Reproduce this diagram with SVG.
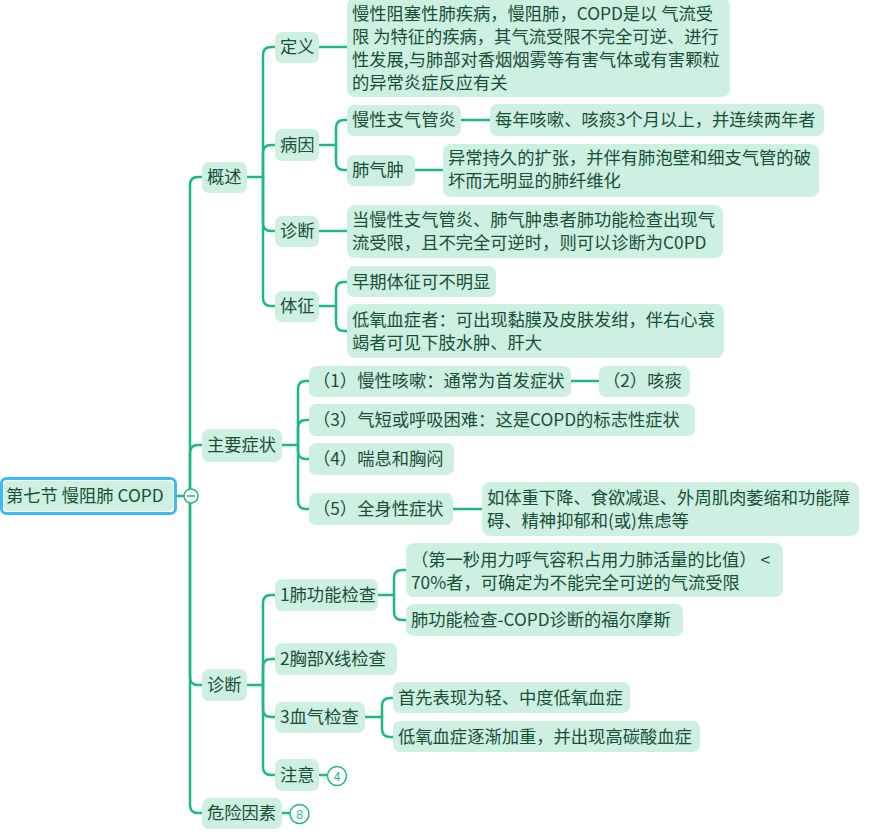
<svg xmlns="http://www.w3.org/2000/svg" width="895" height="833" viewBox="0 0 895 833">
<style>
.b{fill:#cdf0e2}
.t{font-family:"Noto Sans CJK SC","Noto Sans",sans-serif;font-size:17.3px;fill:#184f37}
.c{fill:none;stroke:#1cbb7c;stroke-width:2.5;stroke-linecap:round}
.n{font-family:"Liberation Sans",sans-serif;font-size:12px;fill:#1cbb7c;text-anchor:middle}
</style>
<rect width="895" height="833" fill="#ffffff"/>
<g id="connectors" class="c">
<path d="M177 496H190"/>
<path d="M190 496V185Q190 177 198 177H202"/>
<path d="M190 496V453Q190 445 198 445H202"/>
<path d="M190 496V677Q190 685 198 685H202"/>
<path d="M190 496V805Q190 813 198 813H202"/>
<path d="M247 177H263"/>
<path d="M263 177V55Q263 47 271 47H275"/>
<path d="M263 177V153Q263 145 271 145H275"/>
<path d="M263 177V223Q263 231 271 231H275"/>
<path d="M263 177V298Q263 306 271 306H275"/>
<path d="M319 47H347"/>
<path d="M319 145H336"/>
<path d="M336 145V128Q336 120 344 120H347"/>
<path d="M336 145V162Q336 170 344 170H347"/>
<path d="M461 120H490"/>
<path d="M415 170H443"/>
<path d="M319 231H347"/>
<path d="M319 306H336"/>
<path d="M336 306V290Q336 282 344 282H347"/>
<path d="M336 306V323Q336 331 344 331H347"/>
<path d="M282 445H298"/>
<path d="M298 445V389Q298 381 306 381H309"/>
<path d="M298 445V428Q298 420 306 420H309"/>
<path d="M298 445V451Q298 459 306 459H309"/>
<path d="M298 445V501Q298 509 306 509H309"/>
<path d="M571 381H599"/>
<path d="M453 509H482"/>
<path d="M247 685H263"/>
<path d="M263 685V603Q263 595 271 595H275"/>
<path d="M263 685V667Q263 659 271 659H275"/>
<path d="M263 685V709Q263 717 271 717H275"/>
<path d="M263 685V767Q263 775 271 775H275"/>
<path d="M378 595H394"/>
<path d="M394 595V578Q394 570 402 570H406"/>
<path d="M394 595V612Q394 620 402 620H406"/>
<path d="M365 717H382"/>
<path d="M382 717V706Q382 698 390 698H393"/>
<path d="M382 717V729Q382 737 390 737H393"/>
<path d="M319 775H327"/>
<path d="M282 813H290"/>
</g>
<g id="root">
<rect x="1.5" y="478.5" width="174" height="35" rx="5" fill="#ffffff" stroke="#3fb8f4" stroke-width="3"/>
<rect x="4" y="481" width="169" height="30" rx="5" class="b"/>
<text class="t" x="6" y="502">第七节 慢阻肺 COPD</text>
<circle cx="191" cy="496" r="7" fill="#ffffff" stroke="#1cbb7c" stroke-width="1.5"/>
<path d="M187 496H195" stroke="#1cbb7c" stroke-width="1.5"/>
</g>
<g id="n-gaishu"><rect class="b" x="202" y="162" width="45" height="31" rx="7"/><text class="t" x="207" y="183">概述</text></g>
<g id="n-dingyi"><rect class="b" x="275" y="32" width="44" height="31" rx="7"/><text class="t" x="280" y="53">定义</text></g>
<g id="n-dingyi-c"><rect class="b" x="347" y="-2" width="383" height="99" rx="8"/>
<text class="t" x="352" y="20">慢性阻塞性肺疾病，慢阻肺，COPD是以 气流受</text>
<text class="t" x="352" y="43">限 为特征的疾病，其气流受限不完全可逆、进行</text>
<text class="t" x="352" y="66">性发展,与肺部对香烟烟雾等有害气体或有害颗粒</text>
<text class="t" x="352" y="89">的异常炎症反应有关</text></g>
<g id="n-bingyin"><rect class="b" x="275" y="129" width="44" height="32" rx="7"/><text class="t" x="280" y="151">病因</text></g>
<g id="n-mxzqgy"><rect class="b" x="347" y="105" width="114" height="31" rx="7"/><text class="t" x="352" y="126">慢性支气管炎</text></g>
<g id="n-mxzqgy-c"><rect class="b" x="490" y="104" width="334" height="32" rx="7"/><text class="t" x="495" y="126">每年咳嗽、咳痰3个月以上，并连续两年者</text></g>
<g id="n-fqz"><rect class="b" x="347" y="155" width="68" height="31" rx="7"/><text class="t" x="352" y="176">肺气肿</text></g>
<g id="n-fqz-c"><rect class="b" x="443" y="144" width="376" height="53" rx="8"/>
<text class="t" x="448" y="164">异常持久的扩张，并伴有肺泡壁和细支气管的破</text>
<text class="t" x="448" y="187">坏而无明显的肺纤维化</text></g>
<g id="n-zhenduan1"><rect class="b" x="275" y="216" width="44" height="31" rx="7"/><text class="t" x="280" y="237">诊断</text></g>
<g id="n-zhenduan1-c"><rect class="b" x="347" y="205" width="376" height="53" rx="8"/>
<text class="t" x="352" y="226">当慢性支气管炎、肺气肿患者肺功能检查出现气</text>
<text class="t" x="352" y="249">流受限，且不完全可逆时，则可以诊断为C0PD</text></g>
<g id="n-tizheng"><rect class="b" x="275" y="291" width="44" height="31" rx="7"/><text class="t" x="280" y="312">体征</text></g>
<g id="n-zaoqi"><rect class="b" x="347" y="266" width="149" height="31" rx="7"/><text class="t" x="352" y="288">早期体征可不明显</text></g>
<g id="n-diyang"><rect class="b" x="347" y="304" width="377" height="54" rx="8"/>
<text class="t" x="352" y="326">低氧血症者：可出现黏膜及皮肤发绀，伴右心衰</text>
<text class="t" x="352" y="349">竭者可见下肢水肿、肝大</text></g>
<g id="n-zyzz"><rect class="b" x="202" y="429" width="80" height="33" rx="7"/><text class="t" x="207" y="451">主要症状</text></g>
<g id="n-s1"><rect class="b" x="309" y="366" width="262" height="31" rx="7"/><text class="t" x="313" y="387">（1）慢性咳嗽：通常为首发症状</text></g>
<g id="n-s2"><rect class="b" x="599" y="366" width="91" height="31" rx="7"/><text class="t" x="603" y="387">（2）咳痰</text></g>
<g id="n-s3"><rect class="b" x="309" y="404" width="386" height="32" rx="7"/><text class="t" x="313" y="426">（3）气短或呼吸困难：这是COPD的标志性症状</text></g>
<g id="n-s4"><rect class="b" x="309" y="443" width="145" height="32" rx="7"/><text class="t" x="313" y="465">（4）喘息和胸闷</text></g>
<g id="n-s5"><rect class="b" x="309" y="493" width="144" height="32" rx="7"/><text class="t" x="313" y="515">（5）全身性症状</text></g>
<g id="n-s5-c"><rect class="b" x="482" y="482" width="377" height="54" rx="8"/>
<text class="t" x="487" y="504">如体重下降、食欲减退、外周肌肉萎缩和功能障</text>
<text class="t" x="487" y="527">碍、精神抑郁和(或)焦虑等</text></g>
<g id="n-zhenduan2"><rect class="b" x="202" y="669" width="45" height="32" rx="7"/><text class="t" x="207" y="691">诊断</text></g>
<g id="n-fgn"><rect class="b" x="275" y="579" width="103" height="32" rx="7"/><text class="t" x="280" y="601">1肺功能检查</text></g>
<g id="n-fgn-1"><rect class="b" x="406" y="543" width="377" height="54" rx="8"/>
<text class="t" x="411" y="566">（第一秒用力呼气容积占用力肺活量的比值） &lt;</text>
<text class="t" x="411" y="589">70%者，可确定为不能完全可逆的气流受限</text></g>
<g id="n-fgn-2"><rect class="b" x="406" y="604" width="277" height="32" rx="7"/><text class="t" x="411" y="626">肺功能检查-COPD诊断的福尔摩斯</text></g>
<g id="n-xbx"><rect class="b" x="275" y="643" width="122" height="32" rx="7"/><text class="t" x="280" y="665">2胸部X线检查</text></g>
<g id="n-xq"><rect class="b" x="275" y="702" width="90" height="31" rx="7"/><text class="t" x="280" y="723">3血气检查</text></g>
<g id="n-xq-1"><rect class="b" x="393" y="682" width="237" height="31" rx="7"/><text class="t" x="398" y="704">首先表现为轻、中度低氧血症</text></g>
<g id="n-xq-2"><rect class="b" x="393" y="721" width="307" height="31" rx="7"/><text class="t" x="398" y="743">低氧血症逐渐加重，并出现高碳酸血症</text></g>
<g id="n-zhuyi"><rect class="b" x="275" y="759" width="44" height="32" rx="7"/><text class="t" x="280" y="781">注意</text>
<circle cx="337" cy="776" r="9.5" fill="#ffffff" stroke="#1cbb7c" stroke-width="1.5"/><text class="n" x="337" y="780.5">4</text></g>
<g id="n-wxys"><rect class="b" x="202" y="798" width="80" height="31" rx="7"/><text class="t" x="207" y="819">危险因素</text>
<circle cx="299.5" cy="814" r="9.5" fill="#ffffff" stroke="#1cbb7c" stroke-width="1.5"/><text class="n" x="299.5" y="818.5">8</text></g>
</svg>
